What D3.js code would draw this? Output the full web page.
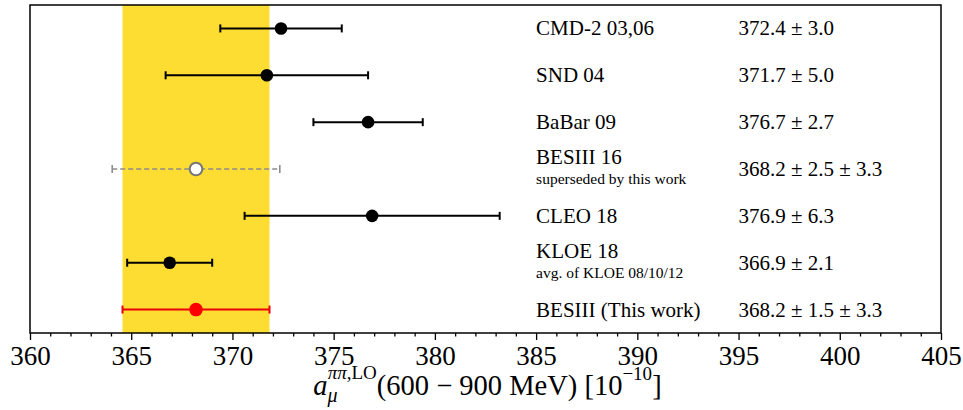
<!DOCTYPE html>
<html>
<head>
<meta charset="utf-8">
<script src="https://cdn.jsdelivr.net/npm/d3@7"></script>
<style>
  body { margin: 0; background: #fff; }
  svg { display: block; }
  svg text { font-family: "Liberation Serif", "DejaVu Serif", serif; }
</style>
</head>
<body>
<div id="chart-area"><svg></svg></div>
<script>
const labels = ["CMD-2 03,06", "SND 04", "BaBar 09", "BESIII 16", "CLEO 18", "KLOE 18", "BESIII (This work)"];
const subLabels = ["", "", "", "superseded by this work", "", "avg. of KLOE 08/10/12", ""];
const centralValues = [372.4, 371.7, 376.7, 368.2, 376.9, 366.9, 368.2];
const totalErrors = [3.0, 5.0, 2.7, 4.14, 6.3, 2.1, 3.63];
const valueTexts = [
  "372.4 ± 3.0", "371.7 ± 5.0", "376.7 ± 2.7", "368.2 ± 2.5 ± 3.3",
  "376.9 ± 6.3", "366.9 ± 2.1", "368.2 ± 1.5 ± 3.3"
];
const styles = ["normal", "normal", "normal", "superseded", "normal", "normal", "thiswork"];
const bandRange = [364.57, 371.83];
const majorTicks = [360, 365, 370, 375, 380, 385, 390, 395, 400, 405];
const minorTicks = [361, 362, 363, 364, 366, 367, 368, 369, 371, 372, 373, 374,
  376, 377, 378, 379, 381, 382, 383, 384, 386, 387, 388, 389, 391, 392, 393, 394,
  396, 397, 398, 399, 401, 402, 403, 404];

const chartSize = { width: 963, height: 410 };
const plot = { left: 30, right: 941, top: 5, bottom: 333 };

const rows = labels.map((name, i) => ({
  name,
  sub: subLabels[i],
  value: centralValues[i],
  err: totalErrors[i],
  text: valueTexts[i],
  style: styles[i]
}));

const drawChart = function() {
  const svg = d3.select("#chart-area svg")
    .attr("width", chartSize.width)
    .attr("height", chartSize.height);

  const x = d3.scaleLinear().domain([360, 405]).range([plot.left, plot.right]);
  const y = d3.scalePoint().domain(labels).range([plot.top, plot.bottom]).padding(0.5);

  // yellow band
  svg.append("rect")
    .attr("x", x(bandRange[0]))
    .attr("y", plot.top)
    .attr("width", x(bandRange[1]) - x(bandRange[0]))
    .attr("height", plot.bottom - plot.top)
    .attr("fill", "#fddd31");

  const colorOf = s => (s === "thiswork" ? "#e8000b" : s === "superseded" ? "#8c8c8c" : "#000");

  const g = svg.selectAll(".row").data(rows).enter().append("g")
    .attr("class", "row")
    .attr("transform", d => `translate(0, ${y(d.name)})`);

  g.append("line")
    .attr("x1", d => x(d.value - d.err))
    .attr("x2", d => x(d.value + d.err))
    .attr("stroke", d => colorOf(d.style))
    .attr("stroke-width", d => (d.style === "superseded" ? 1.6 : 2))
    .attr("stroke-dasharray", d => (d.style === "superseded" ? "5,3" : null));

  [-1, 1].forEach(s => {
    g.append("line")
      .attr("x1", d => x(d.value + s * d.err))
      .attr("x2", d => x(d.value + s * d.err))
      .attr("y1", -4)
      .attr("y2", 4)
      .attr("stroke", d => colorOf(d.style))
      .attr("stroke-width", d => (d.style === "superseded" ? 1.6 : 2));
  });

  g.append("circle")
    .attr("cx", d => x(d.value))
    .attr("r", d => (d.style === "thiswork" ? 6.8 : 6.3))
    .attr("fill", d => (d.style === "superseded" ? "#fff" : d.style === "thiswork" ? "#ff0000" : "#000"))
    .attr("stroke", d => (d.style === "superseded" ? "#777" : "none"))
    .attr("stroke-width", 2);

  g.append("text")
    .attr("x", x(385))
    .attr("y", d => (d.sub ? -5 : 7))
    .attr("font-size", 21)
    .text(d => d.name);

  g.filter(d => d.sub)
    .append("text")
    .attr("x", x(385))
    .attr("y", 15)
    .attr("font-size", 15.5)
    .text(d => d.sub);

  g.append("text")
    .attr("x", x(395))
    .attr("y", 7)
    .attr("font-size", 21)
    .text(d => d.text);

  // frame
  svg.append("rect")
    .attr("x", plot.left)
    .attr("y", plot.top)
    .attr("width", plot.right - plot.left)
    .attr("height", plot.bottom - plot.top)
    .attr("fill", "none")
    .attr("stroke", "#000")
    .attr("stroke-width", 1.5);

  const xAxis = d3.axisBottom(x).tickValues(majorTicks).tickSize(7).tickFormat(d => d);
  const xMinor = d3.axisBottom(x).tickValues(minorTicks).tickSize(3.5).tickFormat("");

  const ax = svg.append("g")
    .attr("class", "x-axis")
    .attr("transform", `translate(0, ${plot.bottom})`)
    .call(xAxis)
    .attr("font-family", null);
  svg.append("g")
    .attr("transform", `translate(0, ${plot.bottom})`)
    .call(xMinor);

  svg.selectAll(".domain").remove();
  svg.selectAll(".tick line").attr("stroke", "#000").attr("stroke-width", 1.3);
  ax.selectAll("text")
    .attr("y", 32)
    .attr("dy", 0)
    .attr("fill", "#000")
    .attr("font-size", 27);

  // axis title
  const title = svg.append("text")
    .attr("x", (plot.left + plot.right) / 2 + 2)
    .attr("y", 395)
    .attr("text-anchor", "middle")
    .attr("font-size", 28.5);
  title.append("tspan").attr("font-style", "italic").text("a");
  title.append("tspan").attr("font-style", "italic").attr("font-size", 20).attr("dy", 7).text("μ");
  const sup = title.append("tspan").attr("font-size", 19).attr("dx", -10).attr("dy", -23);
  sup.append("tspan").attr("font-style", "italic").text("ππ");
  sup.append("tspan").text(",LO");
  title.append("tspan").attr("dy", 16).text("(600 − 900 MeV) [10");
  title.append("tspan").attr("font-size", 19).attr("dy", -15).text("−10");
  title.append("tspan").attr("dy", 15).text("]");
};

window.onload = drawChart;
</script>
</body>
</html>
